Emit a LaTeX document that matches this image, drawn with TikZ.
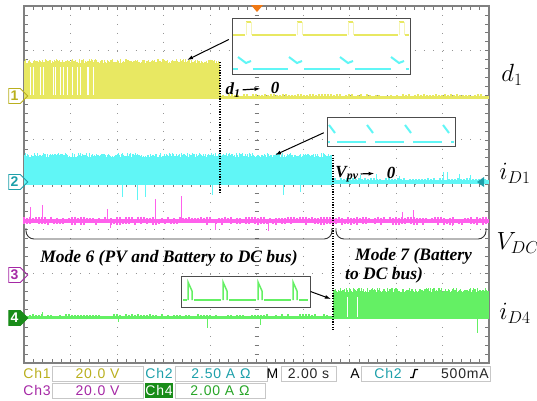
\documentclass[tikz,border=0pt]{standalone}
\usepackage{fontspec}
\usepackage{amsmath}
\usetikzlibrary{arrows.meta,shapes.symbols}
\newfontfamily\scopefont[LetterSpace=6]{Liberation Sans}
\newfontfamily\notefont{Liberation Serif}
\definecolor{chone}{RGB}{232,232,98}
\definecolor{chtwo}{RGB}{96,246,246}
\definecolor{chthree}{RGB}{255,96,236}
\definecolor{chfour}{RGB}{100,240,100}
\definecolor{txtone}{RGB}{185,175,30}
\definecolor{txttwo}{RGB}{30,160,170}
\definecolor{txtthree}{RGB}{165,40,165}
\definecolor{txtfour}{RGB}{40,165,40}
\definecolor{padfour}{RGB}{25,140,25}
\definecolor{gridgray}{RGB}{150,150,150}
\definecolor{trigorange}{RGB}{240,120,20}

\begin{document}
\begin{tikzpicture}[x=1pt,y=-1pt,
  hgrid/.style={gridgray,line width=0.9pt,dash pattern=on 0.9pt off 8.4pt},
  vgrid/.style={gridgray,line width=0.9pt,dash pattern=on 0.9pt off 8.02pt},
  tick/.style={gridgray!80!black,line width=0.6pt},
  insetbox/.style={draw=black!70,fill=white,line width=1pt,inner sep=0pt},
  ptr/.style={-{Latex[length=6pt,width=4pt]},line width=1pt,black},
  cutline/.style={black,line width=1.2pt,dash pattern=on 1.2pt off 1.4pt},
  bracket/.style={black!80,line width=0.9pt,rounded corners=8pt},
  notebold/.style={font=\notefont\bfseries\itshape\fontsize{17}{19}\selectfont,inner sep=0pt},
  modetxt/.style={font=\notefont\bfseries\itshape\fontsize{17.5}{19}\selectfont,inner sep=0pt},
  siglab/.style={font=\fontsize{24}{26}\selectfont,inner sep=0pt},
  chmark/.style={shape=signal,signal to=east,signal from=nowhere,minimum width=19pt,
    minimum height=15pt,inner sep=0.5pt,line width=0.8pt,
    font=\scopefont\bfseries\fontsize{14}{14}\selectfont},
  stat/.style={font=\scopefont\fontsize{14}{14}\selectfont,inner sep=0pt},
  valbox/.style={stat,draw=black!22,line width=0.8pt,minimum height=15pt}]
\useasboundingbox (0,0) rectangle (537,400);
\pgfmathsetseed{5}

% screen grid
\foreach \i in {1,...,9}
  \draw[vgrid] (24+46.5*\i,6) -- (24+46.5*\i,363);
\foreach \j in {1,...,7}
  \draw[hgrid] (24,6+44.625*\j) -- (489,6+44.625*\j);
\foreach \k in {1,...,39}{
  \draw[tick] (24,6+8.925*\k) -- (28,6+8.925*\k);
  \draw[tick] (485,6+8.925*\k) -- (489,6+8.925*\k);
  \draw[tick] (254.5,6+8.925*\k) -- (258.5,6+8.925*\k);}
\foreach \k in {1,...,49}{
  \draw[tick] (24+9.3*\k,6) -- (24+9.3*\k,10);
  \draw[tick] (24+9.3*\k,359) -- (24+9.3*\k,363);
  \draw[tick] (24+9.3*\k,182.5) -- (24+9.3*\k,186.5);}
\draw[gray,line width=1.6pt] (24,6) rectangle (489,363);

% ch1
\fill[chone] (24,64) rectangle (220,99);
\foreach \x in {24,25,...,219}{
  \pgfmathsetmacro\h{1+4*rnd}
  \draw[chone,line width=1.1pt] (\x+0.5,64) -- ++(0,-\h);}
\foreach \x in {30,33,40,43,53,55,60,63,67,72,77,80,87,88,93}
  \draw[white,line width=0.7pt] (\x,67) -- (\x,95);
\fill[chone] (220,96) rectangle (489,99);
\foreach \x in {220,223,...,487}{
  \pgfmathsetmacro\h{2.5*rnd}
  \draw[chone,line width=1.4pt] (\x,96) -- ++(0,-\h);}

% ch2
\fill[chtwo] (24,158) rectangle (332,185);
\foreach \x in {24,25,...,331}{
  \pgfmathsetmacro\h{1+4*rnd}
  \draw[chtwo,line width=1.1pt] (\x+0.5,158) -- ++(0,-\h);}
\foreach \x/\y in {122/197,137/200,145/197,212/195,283/195,300/192}
  \draw[chtwo,line width=0.9pt] (\x,185) -- (\x,\y);
\fill[chtwo] (332,180) rectangle (489,184);
\foreach \x in {332,335,...,487}{
  \pgfmathsetmacro\h{2.5*rnd}
  \draw[chtwo,line width=1.4pt] (\x,180) -- ++(0,-\h);}
\foreach \x/\y in {360/175,376/174,399/176,443/172,447/172,459/174,470/175}
  \draw[chtwo,line width=0.9pt] (\x,180) -- (\x,\y);

% ch3
\fill[chthree] (24,219) rectangle (489,222.5);
\foreach \x in {24,27,...,487}{
  \pgfmathsetmacro\h{2.5*rnd}
  \pgfmathsetmacro\g{2.5*rnd}
  \draw[chthree,line width=1.2pt] (\x,219-\h) -- (\x,222.5+\g);}
\foreach \x/\y in {30/207,42/205,107/209,155/199,181/196,110/228,215/230,268/231,402/212,413/210,452/226}
  \draw[chthree,line width=0.9pt] (\x,221) -- (\x,\y);

% ch4
\fill[chfour] (24,316) rectangle (333,319);
\foreach \x in {24,27,...,331}{
  \pgfmathsetmacro\h{2*rnd}
  \draw[chfour,line width=1.2pt] (\x,316) -- ++(0,-\h);}
\foreach \x/\y in {42/312,207/328,260/325,118/322}
  \draw[chfour,line width=0.9pt] (\x,317) -- (\x,\y);
\fill[chfour] (333,293) rectangle (489,319);
\foreach \x in {333,334,...,488}{
  \pgfmathsetmacro\h{1+4*rnd}
  \draw[chfour,line width=1.1pt] (\x+0.5,293) -- ++(0,-\h);}
\foreach \x in {347,357}
  \draw[white,line width=0.7pt] (\x,297) -- (\x,317);
\draw[chfour,line width=0.9pt] (477,319) -- (477,333);

% markers
\node[chmark,draw=txtone,text=txtone] (p1) at (14.5,96) {1};
\node[chmark,draw=txttwo,text=txttwo] (p2) at (14.5,182) {2};
\node[chmark,draw=txtthree,text=txtthree] (p3) at (14.5,275) {3};
\node[chmark,draw=padfour,fill=padfour,text=white] (p4) at (14.5,318) {4};
\fill[trigorange] (251,5) -- (263,5) -- (257,12) -- cycle;
\fill[txttwo] (477,182) -- (484,177) -- (484,187) -- cycle;

% cut lines and brackets
\draw[cutline] (220,62) -- (220,193);
\draw[cutline] (333,155) -- (333,330);
\draw[bracket] (26,228) -- (26,239) -- (332,239) -- (332,228);
\draw[bracket] (336,228) -- (336,239) -- (486,239) -- (486,228);

% zoomed insets
\node[insetbox,minimum width=178pt,minimum height=56pt] (inD) at (321,46) {};
\foreach \p in {246,297,348,399}{
  \draw[chone,line width=2.5pt] (\p,22) -- (\p+5,22);
  \draw[chone!45,line width=0.4pt] (\p,35) -- (\p,22) (\p+5,22) -- (\p+5,35);
  \draw[chtwo,line width=2pt] (\p-8,57) -- (\p,63) -- (\p+5,61);}
\foreach \a/\b in {233/245,252/296,303/347,354/398,405/409}
  \draw[chone,line width=2.5pt] (\a,35) -- (\b,35);
\foreach \a/\b in {233/238,253/288,304/340,355/391,406/409}
  \draw[chtwo,line width=2.5pt] (\a,69) -- (\b,69);

\node[insetbox,minimum width=128pt,minimum height=29pt] (inV) at (391,131.5) {};
\foreach \p in {329,367,405,443}
  \draw[chtwo,line width=2pt] (\p,125) -- (\p+6,133);
\foreach \a/\b in {328/330,337/366,375/404,413/442,451/454}
  \draw[chtwo,line width=2.5pt] (\a,142) -- (\b,142);

\node[insetbox,minimum width=129pt,minimum height=31pt] (inI) at (245.5,291.5) {};
\foreach \p in {188,223,258,293}
  \draw[chfour,line width=1.5pt] (\p,300) -- (\p,282) -- (\p+4,291) -- (\p+4,300);
\foreach \a/\b in {183/187,194/221,229/256,264/291,299/308}
  \draw[chfour,line width=2.5pt] (\a,300) -- (\b,300);

\coordinate (dband) at (187,60);
\coordinate (vband) at (275,155);
\coordinate (iband) at (331,299);
\draw[ptr,shorten <=3pt] (inD.175) -- (dband);
\draw[ptr,shorten <=3pt] (inV.west) -- (vband);
\draw[ptr] (inI.east) -- (iband);

% notes
\node[notebold] (dlab) at (233,90) {d\textsubscript{1}};
\node[notebold] (dzero) at (275,88) {0};
\draw[ptr,line width=1.2pt,shorten <=2pt,shorten >=10pt] (dlab.east) -- (dzero.west);
\node[notebold] (vlab) at (347,174) {V\textsubscript{pv}};
\node[notebold] (vzero) at (391,173) {0};
\draw[ptr,line width=1.2pt,shorten <=2pt,shorten >=12pt] (vlab.east) -- (vzero.west);
\node[modetxt] (mode6) at (169,258) {Mode 6 (PV and Battery to DC bus)};
\node[modetxt,anchor=west] (mode7a) at (355,256) {Mode 7 (Battery};
\node[modetxt,anchor=west] (mode7b) at (345,275) {to DC bus)};

\node[siglab] (ld) at (512,75) {$d_1$};
\node[siglab] (li1) at (515,173) {$i_{D1}$};
\node[siglab] (lv) at (518,243) {$V_{DC}$};
\node[siglab] (li4) at (515,313) {$i_{D4}$};

% status bar
\node[stat,text=txtone] (c1) at (37,373.5) {Ch1};
\node[valbox,minimum width=91pt,text=txtone] (v1) at (97.5,373.5) {20.0 V};
\node[stat,text=txttwo] (c2) at (159,373.5) {Ch2};
\node[valbox,minimum width=92pt,text=txttwo] (v2) at (221,373.5) {2.50 A Ω};
\node[stat] (cm) at (272.5,373.5) {M};
\node[valbox,minimum width=55pt,text=black!85] (vm) at (308.5,373.5) {2.00 s};
\node[stat] (ca) at (355,373.5) {A};
\node[valbox,minimum width=129pt] (va) at (425.5,373.5) {};
\node[stat,text=txttwo] (ct) at (388,373.5) {Ch2};
\draw[black,line width=1.4pt] (410,377.5) -- (413,377.5) -- (415,369.5) -- (418,369.5);
\node[stat,anchor=east,text=black!85] (tl) at (489,373.5) {500mA};
\node[stat,text=txtthree] (c3) at (37,390.5) {Ch3};
\node[valbox,minimum width=91pt,text=txtthree] (v3) at (97.5,390.5) {20.0 V};
\node[stat,fill=padfour,text=white,minimum width=28pt,minimum height=15pt] (c4) at (159,390.5) {Ch4};
\node[valbox,minimum width=90pt,text=txtfour] (v4) at (220,390.5) {2.00 A Ω};
\end{tikzpicture}
\end{document}
